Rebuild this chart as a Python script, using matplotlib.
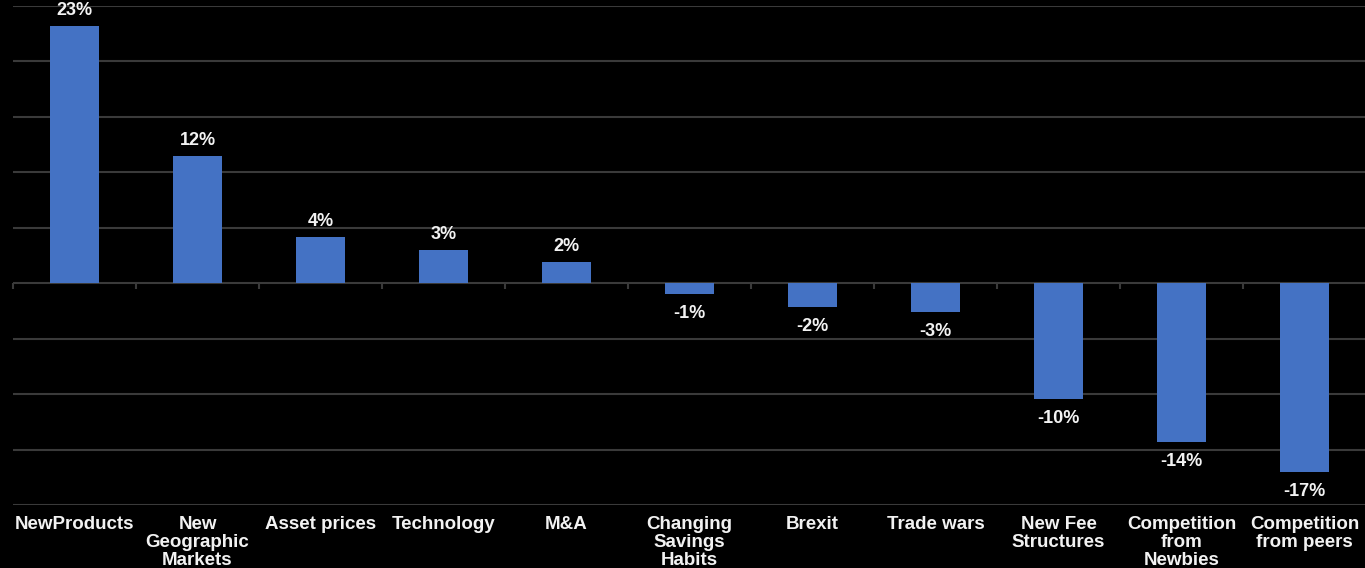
import matplotlib
matplotlib.use("Agg")
import matplotlib.pyplot as plt
import numpy as np

# =========================
# Data
# =========================

CATEGORIES = [
    "NewProducts",
    "New\nGeographic\nMarkets",
    "Asset prices",
    "Technology",
    "M&A",
    "Changing\nSavings\nHabits",
    "Brexit",
    "Trade wars",
    "New Fee\nStructures",
    "Competition\nfrom\nNewbies",
    "Competition\nfrom peers",
]
VALUES = [23.2, 11.5, 4.2, 3.0, 1.9, -1.0, -2.1, -2.6, -10.4, -14.3, -17.0]
VALUE_LABELS = ["23%", "12%", "4%", "3%", "2%", "-1%", "-2%", "-3%", "-10%", "-14%", "-17%"]

BAR_COLOR = "#4472C4"
GRID_COLOR = "#3a3a3a"
TEXT_COLOR = "#f2f2f2"

plt.rcParams["font.family"] = ["Liberation Sans", "DejaVu Sans"]

# =========================
# Plot
# =========================

fig = plt.figure(figsize=(13.65, 5.68), dpi=100, facecolor="black")
ax = fig.add_axes([13 / 1365, 63 / 568, 1353 / 1365, 499 / 568])
ax.set_facecolor("black")

x = np.arange(len(CATEGORIES))
ax.bar(x, VALUES, width=0.4, color=BAR_COLOR, zorder=3)

ax.set_xlim(-0.5, len(CATEGORIES) - 0.5)
ax.set_ylim(-20, 25)
ax.set_yticks(np.arange(-20, 26, 5))
ax.yaxis.grid(True, color=GRID_COLOR, linewidth=1.5)
ax.tick_params(axis="y", left=False, labelleft=False)
for s in ax.spines.values():
    s.set_visible(False)

# category labels at the bottom
ax.set_xticks(x)
ax.set_xticklabels(CATEGORIES, color=TEXT_COLOR, fontsize=13.5,
                   fontweight="bold", linespacing=1.08)
ax.tick_params(axis="x", length=0, pad=8)

# zero line ticks at category boundaries
sec = ax.secondary_xaxis(20 / 45)
sec.set_xticks(np.arange(-0.5, len(CATEGORIES), 1.0))
sec.set_xticklabels([])
sec.tick_params(axis="x", direction="out", length=4, color=GRID_COLOR, width=1.5)
sec.spines["bottom"].set_visible(False)

# value labels
for xi, v, lab in zip(x, VALUES, VALUE_LABELS):
    off = 5 if v > 0 else -8
    ax.annotate(lab, (xi, v), xytext=(0, off), textcoords="offset points",
                ha="center", va="bottom" if v > 0 else "top",
                color=TEXT_COLOR, fontsize=13, fontweight="bold")

fig.savefig("out.png", dpi=100, facecolor="black")
